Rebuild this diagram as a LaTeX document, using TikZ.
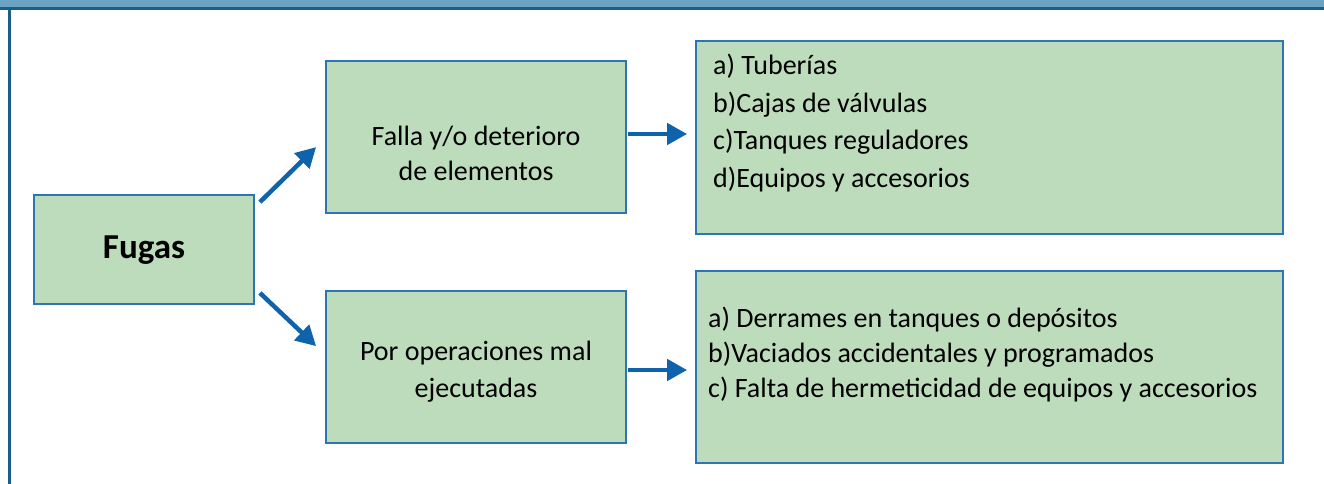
\documentclass[tikz,border=0pt]{standalone}
\usepackage{fontspec}
\setmainfont{Carlito}
\usepackage{tikz}
\usetikzlibrary{positioning, arrows.meta}
\definecolor{barblue}{HTML}{6BA3C3}
\definecolor{frameblue}{HTML}{1B5E8C}
\definecolor{boxblue}{HTML}{2E75B6}
\definecolor{boxgreen}{HTML}{BDDCBB}
\definecolor{arrowblue}{HTML}{0F62AC}
\tikzset{
x=1pt, y=-1pt, % one unit is one pixel of the layout, y runs downwards
box/.style={draw=boxblue, fill=boxgreen, line width=1.8pt, inner sep=0pt}, % every green box
txt/.style={inner sep=0pt, font=\fontsize{28}{36}\selectfont}, % text set in the boxes
arr/.style={draw=arrowblue, line width=4.5pt, -{Triangle[length=20pt,width=21pt]}}, % thick blue arrows
}
\begin{document}
\begin{tikzpicture}
        \useasboundingbox (0,0) rectangle (1324,484);
        % page frame
        \fill[barblue] (0,0) rectangle (1324,8);
        \draw[frameblue, line width=2.5pt] (0,8.5) -- (1324,8.5);
        \draw[frameblue, line width=3pt] (9,8) -- (9,484);

        % boxes
        \node[box, minimum width=220pt, minimum height=109pt] (fugas) at (144,249.5) {};
        \node[box, minimum width=300pt, minimum height=152pt] (falla) at (476,137) {};
        \node[box, minimum width=300pt, minimum height=152pt] (por) at (476,367) {};
        \node[box, minimum width=587pt, minimum height=193pt] (lista1) at (989.5,137.5) {};
        \node[box, minimum width=587pt, minimum height=192pt] (lista2) at (989.5,367) {};

        % texts
        \node[txt, font=\fontsize{35}{40}\selectfont\bfseries, anchor=base] (fugastxt) at (144,258) {Fugas};
        \node[txt, align=center, font=\fontsize{28}{35}\selectfont] (fallatxt) at (476,153) {Falla y/o deterioro\\de elementos};
        \node[txt, align=center, font=\fontsize{28}{37}\selectfont] (portxt) at (476,372) {Por operaciones mal\\ejecutadas};
        \node[txt, align=left, anchor=north west, font=\fontsize{28}{37.5}\selectfont] (lista1txt) at (713,54)
        {a) Tuberías\\b)Cajas de válvulas\\c)Tanques reguladores\\d)Equipos y accesorios};
        \node[txt, align=left, anchor=north west, font=\fontsize{28}{35}\selectfont] (lista2txt) at (708,307)
        {a) Derrames en tanques o depósitos\\b)Vaciados accidentales y programados\\c) Falta de hermeticidad de equipos y accesorios};

        % arrows
        \draw[arr] ([shift={(5,8)}]fugas.north east) -- ([shift={(-9,87)}]falla.north west);
        \draw[arr] ([shift={(5,-12)}]fugas.south east) -- ([shift={(-9,56)}]por.north west);
        \draw[arr] ([shift={(1,-3)}]falla.east) -- ([shift={(-8,-3)}]falla.east -| lista1.west);
        \draw[arr] ([shift={(1,3)}]por.east) -- ([shift={(-8,3)}]por.east -| lista2.west);
\end{tikzpicture}
\end{document}
